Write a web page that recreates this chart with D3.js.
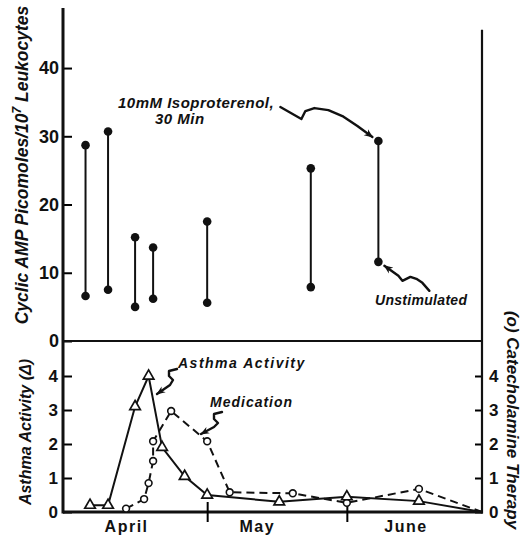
<!DOCTYPE html>
<html>
<head>
<meta charset="utf-8">
<script src="https://cdn.jsdelivr.net/npm/d3@7"></script>
<style>
  body { margin: 0; background: #fff; }
  text { font-family: "Liberation Sans", Arial, sans-serif; font-weight: bold; fill: #111; }
</style>
</head>
<body>
<div id="chart"></div>
<script>
// upper panel: cyclic AMP, stimulated (isoproterenol) vs unstimulated
var cycDates = ["04-04", "04-09", "04-15", "04-19", "05-01", "05-24", "06-08"];
var cycStim  = [28.7, 30.7, 15.2, 13.7, 17.5, 25.3, 29.3];
var cycBasal = [6.6, 7.5, 5.0, 6.2, 5.6, 7.9, 11.6];

// lower panel: asthma activity (triangles) and catecholamine medication (circles)
var asthmaDates = ["04-05", "04-09", "04-15", "04-18", "04-21", "04-26", "05-01", "05-17", "06-01", "06-17", "07-01"];
var asthmaVals  = [0.2, 0.2, 3.1, 4.0, 1.9, 1.05, 0.5, 0.3, 0.45, 0.32, 0];

var medDates = ["04-13", "04-17", "04-18", "04-19", "04-19", "04-23", "05-01", "05-06", "05-20", "06-01", "06-17", "07-01"];
var medVals  = [0.1, 0.38, 0.85, 1.5, 2.08, 2.97, 2.08, 0.58, 0.55, 0.27, 0.68, 0];

var topTicks = [0, 10, 20, 30, 40];
var lowTicks = [0, 1, 2, 3, 4];
var monthTicks = ["05-01", "06-01"];
var monthLabels = ["04-13", "05-12", "06-14"];

var width = 524, height = 537;
var parse = d3.timeParse("%m-%d");
var fam = "Liberation Sans, Arial, sans-serif";

var svg = d3.select("#chart").append("svg")
    .attr("width", width)
    .attr("height", height);

var defs = svg.append("defs");
defs.append("marker")
    .attr("id", "head")
    .attr("viewBox", "0 0 10 10")
    .attr("refX", 9).attr("refY", 5)
    .attr("markerWidth", 9).attr("markerHeight", 9)
    .attr("markerUnits", "userSpaceOnUse")
    .attr("orient", "auto")
  .append("path")
    .attr("d", "M0,1 L10,5 L0,9 L3,5 Z")
    .attr("fill", "#111");

var x = d3.scaleTime()
    .domain([parse("03-30"), parse("07-01")])
    .range([63, 482]);

var yTop = d3.scaleLinear().domain([0, 48.8]).range([341, 8]);
var yLow = d3.scaleLinear().domain([0, 4]).range([512, 376]);

var left = x.range()[0], right = x.range()[1];

// ---- axes ----
var axTop = svg.append("g")
    .attr("transform", "translate(" + left + ",0)")
    .call(d3.axisLeft(yTop).tickValues(topTicks).tickFormat(d3.format("d"))
      .tickSizeInner(-9).tickSizeOuter(0).tickPadding(4));
axTop.select(".domain").remove();
axTop.selectAll("text").style("font-size", "18px").style("font-family", fam);
axTop.selectAll("line").attr("stroke-width", 2);

var axLowL = svg.append("g")
    .attr("transform", "translate(" + left + ",0)")
    .call(d3.axisLeft(yLow).tickValues(lowTicks).tickFormat(d3.format("d"))
      .tickSizeInner(-9).tickSizeOuter(0).tickPadding(5));
axLowL.select(".domain").remove();
axLowL.selectAll("text").style("font-size", "17px").style("font-family", fam);
axLowL.selectAll("line").attr("stroke-width", 2);

var axLowR = svg.append("g")
    .attr("transform", "translate(" + right + ",0)")
    .call(d3.axisRight(yLow).tickValues(lowTicks).tickFormat(d3.format("d"))
      .tickSizeInner(-7).tickSizeOuter(0).tickPadding(7));
axLowR.select(".domain").remove();
axLowR.selectAll("text").style("font-size", "17px").style("font-family", fam);
axLowR.selectAll("line").attr("stroke-width", 2);

// frame lines
svg.append("line").attr("x1", left).attr("x2", left).attr("y1", yTop(48.8)).attr("y2", yLow(0) + 1.5)
    .attr("stroke", "#111").attr("stroke-width", 3);
svg.append("line").attr("x1", right).attr("x2", right).attr("y1", yTop(45.6)).attr("y2", yLow(0) + 1.5)
    .attr("stroke", "#111").attr("stroke-width", 2.2);
svg.append("line").attr("x1", left).attr("x2", right).attr("y1", yTop(0)).attr("y2", yTop(0))
    .attr("stroke", "#111").attr("stroke-width", 2);
svg.append("line").attr("x1", left).attr("x2", right + 1).attr("y1", yLow(0)).attr("y2", yLow(0))
    .attr("stroke", "#111").attr("stroke-width", 3);

// month ticks crossing the time axis
var axX = svg.append("g")
    .attr("transform", "translate(0," + yLow(0) + ")")
    .call(d3.axisBottom(x).tickValues(monthTicks.map(parse)).tickSize(10).tickFormat(""));
axX.select(".domain").remove();
axX.selectAll("line").attr("y1", -10).attr("stroke-width", 2);

var axM = svg.append("g")
    .attr("transform", "translate(0," + yLow(0) + ")")
    .call(d3.axisBottom(x).tickValues(monthLabels.map(parse)).tickSize(0).tickPadding(9).tickFormat(d3.timeFormat("%B")));
axM.select(".domain").remove();
axM.selectAll("text").style("font-size", "16px").style("letter-spacing", "1.5px").style("font-family", fam);

// ---- upper panel marks ----
var cyc = cycDates.map(function(d, i) { return {date: parse(d), hi: cycStim[i], lo: cycBasal[i]}; });

svg.append("g").selectAll("line")
    .data(cyc).enter().append("line")
    .attr("x1", function(d) { return x(d.date); })
    .attr("x2", function(d) { return x(d.date); })
    .attr("y1", function(d) { return yTop(d.hi); })
    .attr("y2", function(d) { return yTop(d.lo); })
    .attr("stroke", "#111").attr("stroke-width", 2);

svg.append("g").selectAll("circle")
    .data(cyc.flatMap(function(d) { return [{date: d.date, v: d.hi}, {date: d.date, v: d.lo}]; }))
    .enter().append("circle")
    .attr("cx", function(d) { return x(d.date); })
    .attr("cy", function(d) { return yTop(d.v); })
    .attr("r", 4.3)
    .attr("fill", "#111");

// ---- lower panel marks ----
var asthma = asthmaDates.map(function(d, i) { return {date: parse(d), v: asthmaVals[i]}; });
var med = medDates.map(function(d, i) { return {date: parse(d), v: medVals[i]}; });

var line = d3.line()
    .x(function(d) { return x(d.date); })
    .y(function(d) { return yLow(d.v); });

svg.append("path").datum(med)
    .attr("d", line)
    .attr("fill", "none").attr("stroke", "#111").attr("stroke-width", 2)
    .attr("stroke-dasharray", "8,5");

svg.append("path").datum(asthma)
    .attr("d", line)
    .attr("fill", "none").attr("stroke", "#111").attr("stroke-width", 2);

svg.append("g").selectAll("circle")
    .data(med.slice(0, -1)).enter().append("circle")
    .attr("cx", function(d) { return x(d.date); })
    .attr("cy", function(d) { return yLow(d.v); })
    .attr("r", 3.4)
    .attr("fill", "#fff").attr("stroke", "#111").attr("stroke-width", 1.6);

svg.append("g").selectAll("path")
    .data(asthma.slice(0, -1)).enter().append("path")
    .attr("d", d3.symbol(d3.symbolTriangle).size(48))
    .attr("transform", function(d) { return "translate(" + x(d.date) + "," + yLow(d.v) + ")"; })
    .attr("fill", "#fff").attr("stroke", "#111").attr("stroke-width", 1.7);

// ---- axis titles ----
var yt = svg.append("text")
    .attr("transform", "translate(28,165) rotate(-90)")
    .attr("text-anchor", "middle")
    .style("font-style", "italic").style("font-size", "17.5px");
yt.append("tspan").text("Cyclic AMP Picomoles/10");
yt.append("tspan").attr("dy", -7).style("font-size", "12px").text("7");
yt.append("tspan").attr("dy", 7).text(" Leukocytes");

svg.append("text")
    .attr("transform", "translate(31,432) rotate(-90)")
    .attr("text-anchor", "middle")
    .style("font-style", "italic").style("font-size", "16px")
    .text("Asthma Activity (\u0394)");

svg.append("text")
    .attr("transform", "translate(507,420) rotate(90)")
    .attr("text-anchor", "middle")
    .style("font-style", "italic").style("font-size", "17px")
    .text("(o) Catecholamine Therapy");

// ---- annotations ----
function note(tx, ty, str, size, spacing) {
  svg.append("text").attr("x", tx).attr("y", ty)
      .style("font-style", "italic").style("font-size", size + "px")
      .style("letter-spacing", (spacing || 0) + "px")
      .text(str);
}
note(118, 108, "10mM Isoproterenol,", 15, 0.5);
note(155, 124, "30 Min", 15, 0.5);
note(375, 305, "Unstimulated", 14, 0.3);
note(178, 368, "Asthma Activity", 14, 1.5);
note(210, 407, "Medication", 14, 1);

var squiggle = d3.line();
function arrow(px, py, offs) {
  svg.append("path")
      .attr("d", squiggle(offs.map(function(o) { return [px + o[0], py + o[1]]; })))
      .attr("fill", "none").attr("stroke", "#111").attr("stroke-width", 2.4)
      .attr("stroke-linejoin", "round").attr("stroke-linecap", "round")
      .attr("marker-end", "url(#head)");
}
var last = cyc[cyc.length - 1];
arrow(x(last.date), yTop(last.hi),
  [[-98, -34], [-77, -22], [-73, -30], [-64, -33], [-50, -31], [-36, -25], [-21, -15], [-6, -4]]);
arrow(x(last.date), yTop(last.lo),
  [[51, 29], [44, 21], [38, 17], [32, 15], [28, 17], [24, 19], [20, 14], [6, 4]]);
arrow(0, 0, [[177, 369], [169, 371], [169, 376], [173, 380], [170, 385], [157, 394]]);
arrow(0, 0, [[222, 412], [214, 414], [214, 419], [218, 423], [214, 427], [201, 434]]);
</script>
</body>
</html>
